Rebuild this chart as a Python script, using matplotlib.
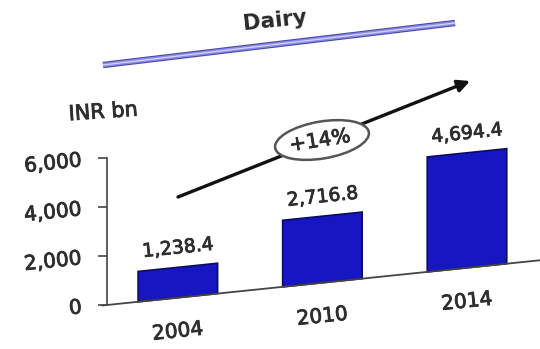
import numpy as np
import matplotlib
matplotlib.use("Agg")
import matplotlib.pyplot as plt
import matplotlib.patheffects as pe
from matplotlib.transforms import Affine2D, IdentityTransform
from matplotlib.patches import Ellipse, FancyArrowPatch
from matplotlib.lines import Line2D

# Data
years = ["2004", "2010", "2014"]
values = [1238.4, 2716.8, 4694.4]
y_ticks = [0, 2000, 4000, 6000]
title = "Dairy"
unit = "INR bn"
cagr = "+14%"

TEXT = "#2e2e2e"
BAR = "#1616c2"
BAR_EDGE = "#0c0c60"
AXIS = "#444444"
FONT = "DejaVu Sans"
HEAVY = [pe.withStroke(linewidth=0.6, foreground=TEXT)]

W, H, DPI = 540, 349, 100
fig = plt.figure(figsize=(W / DPI, H / DPI), dpi=DPI)
fig.patch.set_facecolor("white")

# axes box in pixels (left, bottom from top)
left_px, right_px, top_px, bottom_px = 107, 540, 158, 305
ax = fig.add_axes([left_px / W, 1 - bottom_px / H,
                   (right_px - left_px) / W, (bottom_px - top_px) / H])
ax.set_xlim(-0.49, 2.505)
ax.set_ylim(0, 6000)
ax.set_facecolor("none")
for s in ["top", "right", "bottom"]:
    ax.spines[s].set_visible(False)
ax.spines["left"].set_color(AXIS)
ax.spines["left"].set_linewidth(1.2)
ax.set_xticks([])
ax.set_yticks(y_ticks)
ax.tick_params(axis="y", direction="out", length=6.5, width=1.2,
               color=AXIS, labelleft=False)

# the whole chart plane leans upward to the right
pivot = (left_px, H - bottom_px)
lean = Affine2D().translate(-pivot[0], -pivot[1]).skew_deg(0, 5.9).translate(*pivot)
tdata = ax.transData + lean
rot = 6

x = np.arange(len(years))
bars = ax.bar(x, values, width=0.55, color=BAR, edgecolor=BAR_EDGE, linewidth=1.2)
for b in bars:
    b.set_transform(tdata)
    b.set_clip_on(False)

# baseline
ax.plot([-0.52, ax.get_xlim()[1]], [0, 0], color=AXIS, lw=1.3,
        transform=tdata, clip_on=False)

# value labels
for xi, v in zip(x, values):
    ax.annotate(f"{v:,.1f}", xy=(xi, v), xycoords=tdata,
                xytext=(0, 14), textcoords="offset points",
                ha="center", va="center", rotation=rot, rotation_mode="anchor",
                fontsize=13.5, color=TEXT, family=FONT, path_effects=HEAVY)

# category labels
for xi, yr in zip(x, years):
    ax.annotate(yr, xy=(xi, 0), xycoords=tdata,
                xytext=(0, -24.5), textcoords="offset points",
                ha="center", va="center", rotation=rot, rotation_mode="anchor",
                fontsize=14.5, color=TEXT, family=FONT, path_effects=HEAVY)

# y tick labels
for t in y_ticks:
    ax.text(-0.058, t, f"{t:,}", transform=ax.get_yaxis_transform() + lean,
            ha="right", va="center", rotation=rot, rotation_mode="anchor",
            fontsize=14.5, color=TEXT, family=FONT, path_effects=HEAVY)

def fpx(px, py):
    return (px / W, 1 - py / H)

# unit label
fig.text(*fpx(103, 112), unit, ha="center", va="center", rotation=4,
         fontsize=15, color=TEXT, family=FONT, path_effects=HEAVY)

# growth arrow and CAGR bubble
arrow = FancyArrowPatch(fpx(178, 197), fpx(470, 81), transform=fig.transFigure,
                        arrowstyle="-|>", mutation_scale=18, lw=2.4,
                        color="#111111", shrinkA=0, shrinkB=0)
fig.add_artist(arrow)
ell = Ellipse((322, H - 140), 95, 37, angle=9.6, transform=IdentityTransform(),
              facecolor="white", edgecolor="#555555", lw=1.8, zorder=3)
fig.add_artist(ell)
fig.text(*fpx(320, 141), cagr, ha="center", va="center", rotation=9,
         fontsize=14.5, color=TEXT, family=FONT, zorder=4, path_effects=HEAVY)

# title with double rule beneath
for lw, c in [(4.6, "#4a4aa8"), (3.0, "#8c8ce4"), (0.9, "#d4d4ff")]:
    fig.add_artist(Line2D([103 / W, 455 / W], [1 - 65 / H, 1 - 23 / H],
                          transform=fig.transFigure, lw=lw, color=c,
                          solid_capstyle="butt"))
fig.text(*fpx(275, 21), title, ha="center", va="center", rotation=rot,
         fontsize=15.5, fontweight="bold", color="#2a2a2a", family=FONT)

fig.savefig("out.png", dpi=DPI, facecolor="white")
